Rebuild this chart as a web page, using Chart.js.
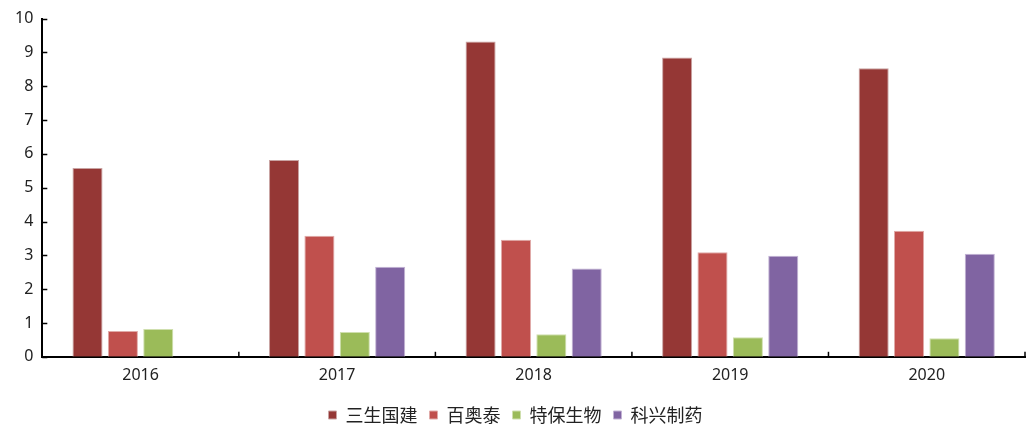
<!DOCTYPE html>
<html>
<head>
<meta charset="utf-8">
<script src="https://cdn.jsdelivr.net/npm/chart.js@4"></script>
<style>
html,body{margin:0;padding:0;background:#fff;}
#wrap{width:1027px;height:427px;}
</style>
</head>
<body>
<div id="wrap"><canvas id="c" width="1027" height="427"></canvas></div>
<script>
const categories = ['2016', '2017', '2018', '2019', '2020'];
const sansheng = [5.58, 5.82, 9.32, 8.85, 8.53];
const baiaotai = [0.76, 3.58, 3.46, 3.09, 3.73];
const tebao = [0.82, 0.73, 0.67, 0.58, 0.55];
const kexing = [null, 2.66, 2.61, 2.99, 3.05];
const seriesNames = ['三生国建', '百奥泰', '特保生物', '科兴制药'];
const yTicks = [0, 1, 2, 3, 4, 5, 6, 7, 8, 9, 10];

const colors = ['#953735', '#C0504D', '#9BBB59', '#8064A2'];
const edge = ['#c9a3a2', '#e0aaa8', '#cfdfae', '#c2b3d4'];

const innerTicks = {
  id: 'innerTicks',
  afterDraw(chart) {
    const ctx = chart.ctx;
    const x = chart.scales.x, y = chart.scales.y;
    ctx.save();
    ctx.strokeStyle = '#000';
    ctx.lineWidth = 1.5;
    yTicks.forEach(v => {
      const py = Math.round(y.getPixelForValue(v)) + 0.5;
      ctx.beginPath();
      ctx.moveTo(x.left, py);
      ctx.lineTo(x.left + 5, py);
      ctx.stroke();
    });
    const n = categories.length;
    const step = x.getPixelForValue(1) - x.getPixelForValue(0);
    for (let i = 1; i <= n; i++) {
      const px = x.getPixelForValue(i - 1) + step / 2;
      ctx.beginPath();
      ctx.moveTo(px, y.bottom);
      ctx.lineTo(px, y.bottom - 5);
      ctx.stroke();
    }
    ctx.restore();
  }
};

const dataSets = [sansheng, baiaotai, tebao, kexing].map((d, i) => ({
  label: seriesNames[i],
  data: d,
  backgroundColor: colors[i],
  borderColor: edge[i],
  borderWidth: 1,
  categoryPercentage: 0.72,
  barPercentage: 0.85
}));

new Chart(document.getElementById('c'), {
  type: 'bar',
  data: { labels: categories, datasets: dataSets },
  options: {
    responsive: false,
    animation: false,
    devicePixelRatio: 1,
    layout: { padding: { left: 6, right: 2, top: 2, bottom: 0 } },
    plugins: {
      legend: {
        position: 'bottom',
        maxHeight: 33,
        labels: {
          boxWidth: 8,
          boxHeight: 8,
          padding: 12,
          color: '#222',
          font: { family: '"Noto Sans CJK SC"', size: 18 }
        }
      },
      tooltip: { enabled: false }
    },
    scales: {
      x: {
        grid: { display: false, drawTicks: false },
        border: { display: true, color: '#000', width: 2 },
        ticks: {
          padding: 9,
          color: '#222',
          font: { family: '"Noto Sans"', size: 16 }
        }
      },
      y: {
        min: 0, max: 10,
        grid: { display: false, drawTicks: false },
        border: { display: true, color: '#000', width: 2 },
        ticks: {
          stepSize: 1,
          padding: 9,
          color: '#222',
          font: { family: '"Noto Sans"', size: 16 }
        }
      }
    }
  },
  plugins: [innerTicks]
});
</script>
</body>
</html>
